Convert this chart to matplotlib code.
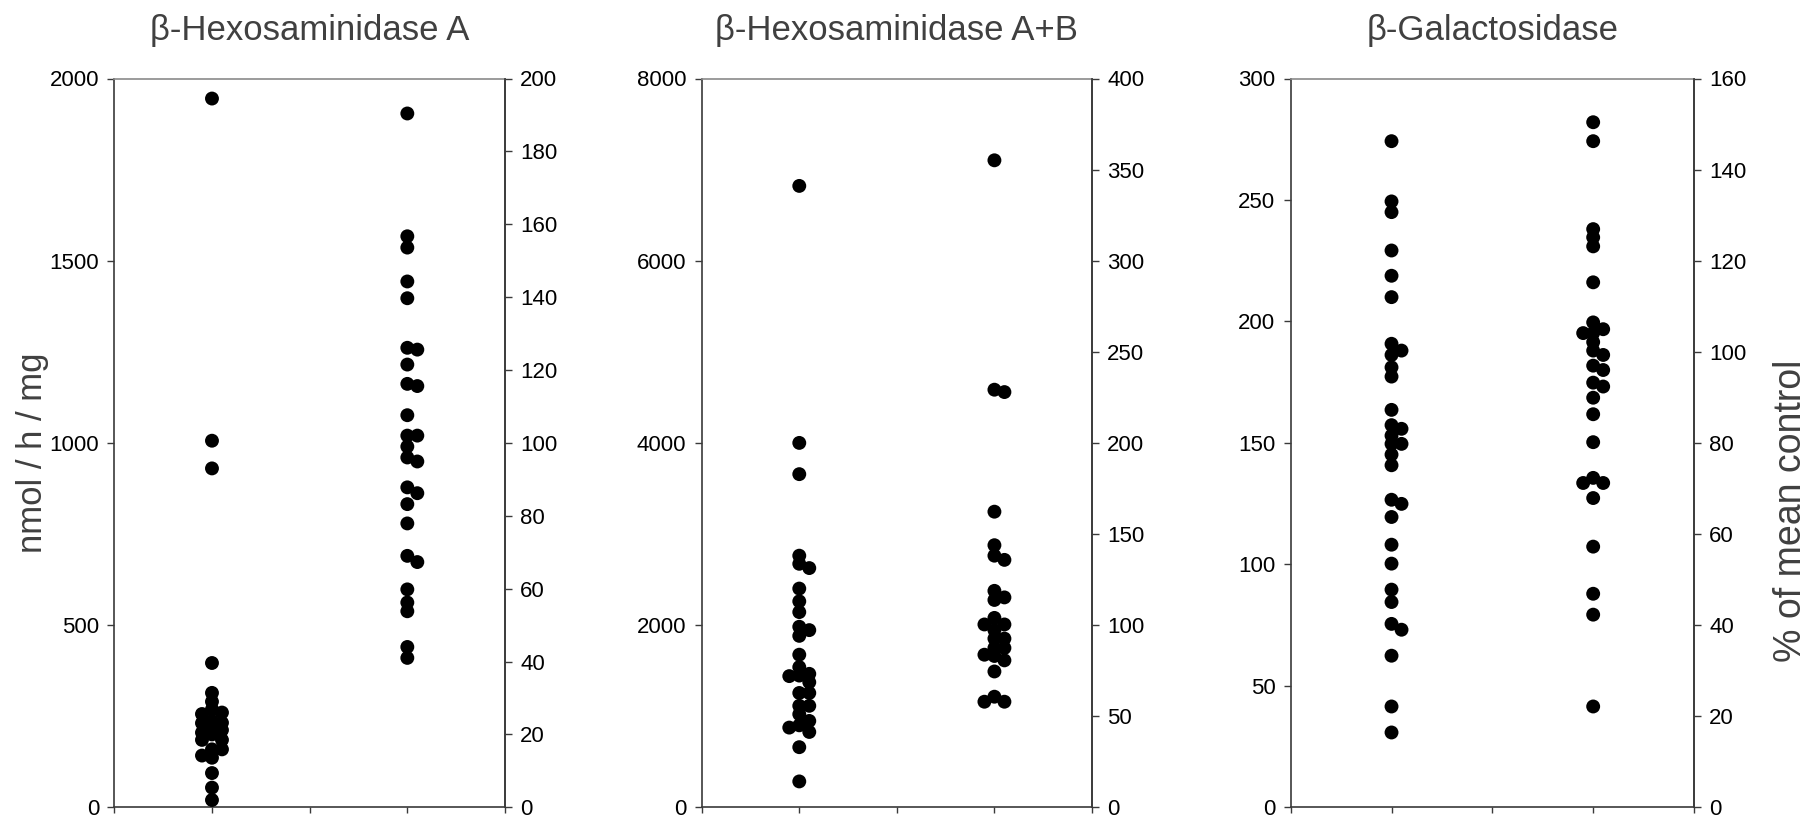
#!/usr/bin/env python3
"""
Enzyme activity dot plots (three panels, two groups each).
Left axis: nmol / h / mg, right axis: % of mean control.
"""

import numpy as np
import matplotlib
matplotlib.use("Agg")
import matplotlib.pyplot as plt

# ==============================
# Data
# ==============================
TITLES = ["β-Hexosaminidase A", "β-Hexosaminidase A+B", "β-Galactosidase"]

hexa_g1 = [1945, 1006, 930, 396, 314, 290, 269, 260, 256, 237, 232, 231, 214,
           212, 205, 200, 185, 185, 159, 159, 142, 136, 94, 54, 20]
hexa_g2 = [1904, 1567, 1536, 1443, 1397, 1261, 1256, 1215, 1162, 1156, 1076,
           1020, 1020, 990, 960, 949, 878, 862, 832, 779, 690, 673, 598, 562,
           538, 440, 410]

hexab_g1 = [6821, 4000, 3657, 2762, 2673, 2626, 2401, 2261, 2143, 1982, 1945,
            1882, 1675, 1539, 1465, 1446, 1440, 1373, 1255, 1255, 1114, 1114,
            1022, 948, 900, 875, 827, 660, 284]
hexab_g2 = [7102, 4584, 4558, 3245, 2877, 2762, 2716, 2376, 2304, 2276, 2079,
            2007, 2007, 1945, 1852, 1852, 1749, 1749, 1675, 1661, 1613, 1491,
            1214, 1159, 1159]

gal_g1 = [274.2, 249.4, 245.0, 229.2, 218.8, 210.0, 190.8, 188.0, 186.2, 181.1,
          177.3, 163.6, 157.3, 155.8, 153.0, 149.6, 149.6, 145.2, 140.8, 126.6,
          124.9, 119.5, 108.1, 100.3, 89.6, 84.5, 75.5, 73.1, 62.4, 41.5, 30.8]
gal_g2 = [282.0, 274.2, 238.0, 234.6, 230.9, 216.1, 199.6, 196.8, 195.2, 195.2,
          191.5, 188.0, 186.2, 181.8, 180.0, 174.8, 173.2, 168.6, 161.8, 150.3,
          135.6, 133.5, 133.5, 127.3, 107.3, 87.9, 79.3, 41.5]

LEFT_MAX = [2000, 8000, 300]
LEFT_STEP = [500, 2000, 50]
RIGHT_MAX = [200, 400, 160]
RIGHT_STEP = [20, 50, 20]

# ==============================
# Layout / style
# ==============================
FIG_W, FIG_H, DPI = 1809, 819, 100
# axes boxes in pixels: (left, right)
AX_X = [(114.3, 505.0), (701.7, 1092.0), (1290.7, 1694.0)]
AX_TOP, AX_BOTTOM = 78.5, 807.3

TEXT_GRAY = "#404040"
AXIS_GRAY = "#3a3a3a"
DOT_PT = 10.0      # marker diameter in points
STEP_PX = 10.0     # sideways shift for overlapping dots
GAP_PX = 7.5       # vertical distance below which dots count as overlapping

plt.rcParams["font.family"] = ["Liberation Sans", "DejaVu Sans"]


def swarm_columns(values, px_per_unit, min_gap):
    """Greedy side-by-side placement: centre first, then right, then left."""
    placed = []
    cols = []
    for v in values:
        y = v * px_per_unit
        best, best_d = 0, -1.0
        for c in (0, 1, -1):
            same = [abs(y - py) for pc, py in placed if pc == c]
            d = min(same) if same else np.inf
            if d >= min_gap:
                best = c
                break
            if d > best_d:
                best, best_d = c, d
        placed.append((best, y))
        cols.append(best)
    return np.array(cols)


def style_axes(ax, ax2):
    for sp in ax.spines.values():
        sp.set_linewidth(1.2)
        sp.set_color(AXIS_GRAY)
    ax.spines["top"].set_color("#8a8a8a")
    for name in ("left", "top", "bottom"):
        ax2.spines[name].set_visible(False)
    ax2.spines["right"].set_linewidth(1.2)
    ax2.spines["right"].set_color(AXIS_GRAY)

    ax.tick_params(axis="y", direction="out", length=5, width=1, pad=6,
                   labelsize=16, color=AXIS_GRAY)
    ax.tick_params(axis="x", direction="out", length=4, width=1,
                   color=AXIS_GRAY)
    ax2.tick_params(axis="y", direction="out", length=5, width=1, pad=6,
                    labelsize=16, color=AXIS_GRAY)


def main():
    fig = plt.figure(figsize=(FIG_W / DPI, FIG_H / DPI), dpi=DPI)
    groups = [(hexa_g1, hexa_g2), (hexab_g1, hexab_g2), (gal_g1, gal_g2)]

    ax_h_px = AX_BOTTOM - AX_TOP
    for i, (g1, g2) in enumerate(groups):
        x0, x1 = AX_X[i]
        rect = [x0 / FIG_W, 1 - AX_BOTTOM / FIG_H, (x1 - x0) / FIG_W, ax_h_px / FIG_H]
        ax = fig.add_axes(rect)
        ax2 = ax.twinx()

        px_per_y = ax_h_px / LEFT_MAX[i]
        step = STEP_PX / ((x1 - x0) / 4.0)
        for xc, vals in ((1, g1), (3, g2)):
            vals = np.asarray(vals, dtype=float)
            cols = swarm_columns(vals, px_per_y, GAP_PX)
            ax.scatter(xc + cols * step, vals, s=DOT_PT ** 2,
                       color="black", edgecolors="none", zorder=3, clip_on=False)

        ax.set_xlim(0, 4)
        ax.set_xticks([0, 1, 2, 3, 4])
        ax.set_xticklabels([])
        ax.set_ylim(0, LEFT_MAX[i])
        ax.set_yticks(np.arange(0, LEFT_MAX[i] + 1, LEFT_STEP[i]))
        ax2.set_ylim(0, RIGHT_MAX[i])
        ax2.set_yticks(np.arange(0, RIGHT_MAX[i] + 1, RIGHT_STEP[i]))

        style_axes(ax, ax2)
        ax.set_title(TITLES[i], fontsize=25, color=TEXT_GRAY, pad=28)

        if i == 0:
            ax.set_ylabel("nmol / h / mg", fontsize=25, color=TEXT_GRAY)
            ax.yaxis.set_label_coords(-0.166, 0.487)
        if i == 2:
            ax2.set_ylabel("% of mean control", fontsize=27, color=TEXT_GRAY,
                           rotation=90)
            ax2.yaxis.set_label_coords(1.196, 0.407)

    fig.savefig("out.png", dpi=DPI, facecolor="white")
    plt.close(fig)


if __name__ == "__main__":
    main()
